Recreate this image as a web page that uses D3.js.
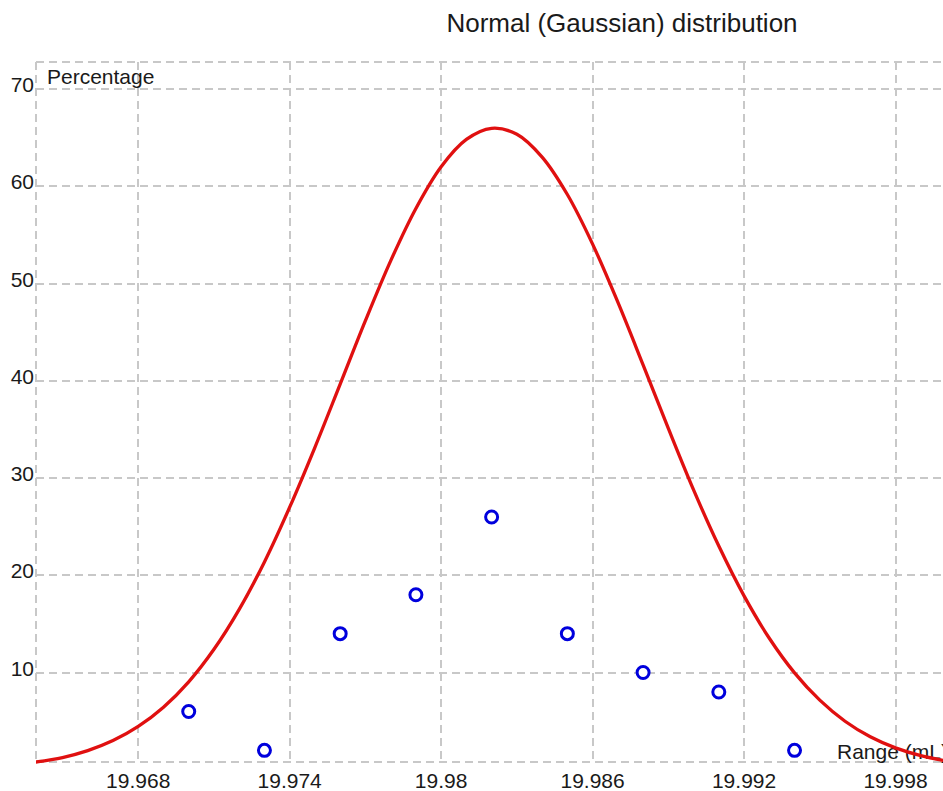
<!DOCTYPE html>
<html lang='en'>
  <head>
    <meta charset='utf-8' />
    <title>Normal (Gaussian) distribution</title>
    <script src='https://cdn.jsdelivr.net/npm/d3@7/dist/d3.min.js'></script>
    <style>
      body { margin: 0; background: #fff; }
      svg { display: block; }
      .grid line { stroke: #c8c8c8; stroke-width: 2; stroke-dasharray: 8,5; }
      .tick-label { font-family: 'Liberation Sans', Arial, sans-serif; font-size: 21px; fill: #1a1a1a; }
      .title { font-family: 'Liberation Sans', Arial, sans-serif; font-size: 26px; fill: #1a1a1a; }
    </style>
  </head>
  <body>
    <div id='chart'></div>
    <script type='text/javascript'>
      // measured points (mL, %)
      var sampleX = [19.970, 19.973, 19.976, 19.979, 19.982, 19.985, 19.988, 19.991, 19.994];
      var samplePct = [6, 2, 14, 18, 26, 14, 10, 8, 2];

      // fitted curve
      var curveX = [19.9639, 19.965, 19.966, 19.967, 19.968, 19.969, 19.970, 19.971, 19.972, 19.973,
        19.974, 19.975, 19.976, 19.977, 19.978, 19.979, 19.980, 19.981, 19.982, 19.983,
        19.984, 19.985, 19.986, 19.987, 19.988, 19.989, 19.990, 19.991, 19.992, 19.993,
        19.994, 19.995, 19.996, 19.997, 19.998, 19.999, 20.000];
      var curvePct = [0.78, 1.26, 1.97, 3.00, 4.46, 6.44, 9.05, 12.39, 16.50, 21.38,
        27.01, 33.17, 39.67, 46.20, 52.35, 57.74, 62.03, 64.84, 65.98, 65.37,
        63.02, 59.17, 54.07, 48.09, 41.65, 35.11, 28.79, 23.01, 17.89, 13.53,
        9.97, 7.16, 4.99, 3.39, 2.25, 1.45, 0.91];

      var xTicks = [19.968, 19.974, 19.98, 19.986, 19.992, 19.998];
      var yTicks = [10, 20, 30, 40, 50, 60, 70];

      (function() {
        var width = 943, height = 791;
        var plotLeft = 36, plotRight = 946, plotTop = 62, plotBottom = 762;

        var x = d3.scaleLinear().domain([19.96395, 20.0]).range([plotLeft, plotRight]);
        var y = d3.scaleLinear().domain([0.8, 72.8]).range([plotBottom, plotTop]);

        var svg = d3.select('#chart').append('svg')
          .attr('width', width)
          .attr('height', height);

        svg.append('defs').append('clipPath').attr('id', 'plot')
          .append('rect')
          .attr('x', plotLeft).attr('y', plotTop - 2)
          .attr('width', plotRight - plotLeft).attr('height', plotBottom - plotTop + 4);

        svg.append('text')
          .attr('class', 'title')
          .attr('x', 622)
          .attr('y', 32)
          .attr('text-anchor', 'middle')
          .text('Normal (Gaussian) distribution');

        // dashed grid + frame
        var grid = svg.append('g').attr('class', 'grid');
        grid.selectAll('.vx')
          .data([x.domain()[0]].concat(xTicks))
          .enter().append('line')
          .attr('x1', function(d) { return Math.round(x(d)); })
          .attr('x2', function(d) { return Math.round(x(d)); })
          .attr('y1', plotTop)
          .attr('y2', plotBottom);
        grid.selectAll('.hy')
          .data([y.domain()[0], y.domain()[1]].concat(yTicks))
          .enter().append('line')
          .attr('x1', plotLeft)
          .attr('x2', plotRight)
          .attr('y1', function(d) { return Math.round(y(d)); })
          .attr('y2', function(d) { return Math.round(y(d)); });

        // axis labels
        svg.selectAll('.ylab')
          .data(yTicks)
          .enter().append('text')
          .attr('class', 'tick-label')
          .attr('x', 34)
          .attr('y', function(d) { return y(d) + 3; })
          .attr('text-anchor', 'end')
          .text(function(d) { return d; });

        svg.selectAll('.xlab')
          .data(xTicks)
          .enter().append('text')
          .attr('class', 'tick-label')
          .attr('x', function(d) { return x(d); })
          .attr('y', 788)
          .attr('text-anchor', 'middle')
          .text(function(d) { return d3.format('')(d); });

        svg.append('text')
          .attr('class', 'tick-label')
          .attr('x', 47)
          .attr('y', 84)
          .text('Percentage');

        svg.append('text')
          .attr('class', 'tick-label')
          .attr('x', 837)
          .attr('y', 759)
          .text('Range (mL)');

        // gaussian curve
        var line = d3.line()
          .x(function(d) { return x(d[0]); })
          .y(function(d) { return y(d[1]); })
          .curve(d3.curveCatmullRom);

        svg.append('path')
          .datum(d3.zip(curveX, curvePct))
          .attr('clip-path', 'url(#plot)')
          .attr('d', line)
          .attr('fill', 'none')
          .attr('stroke', '#e01010')
          .attr('stroke-width', 3.3);

        // sample points
        svg.selectAll('.pt')
          .data(d3.zip(sampleX, samplePct))
          .enter().append('circle')
          .attr('cx', function(d) { return x(d[0]); })
          .attr('cy', function(d) { return y(d[1]); })
          .attr('r', 6)
          .attr('fill', '#fff')
          .attr('stroke', '#0000dd')
          .attr('stroke-width', 3);
      })();
    </script>
  </body>
</html>
